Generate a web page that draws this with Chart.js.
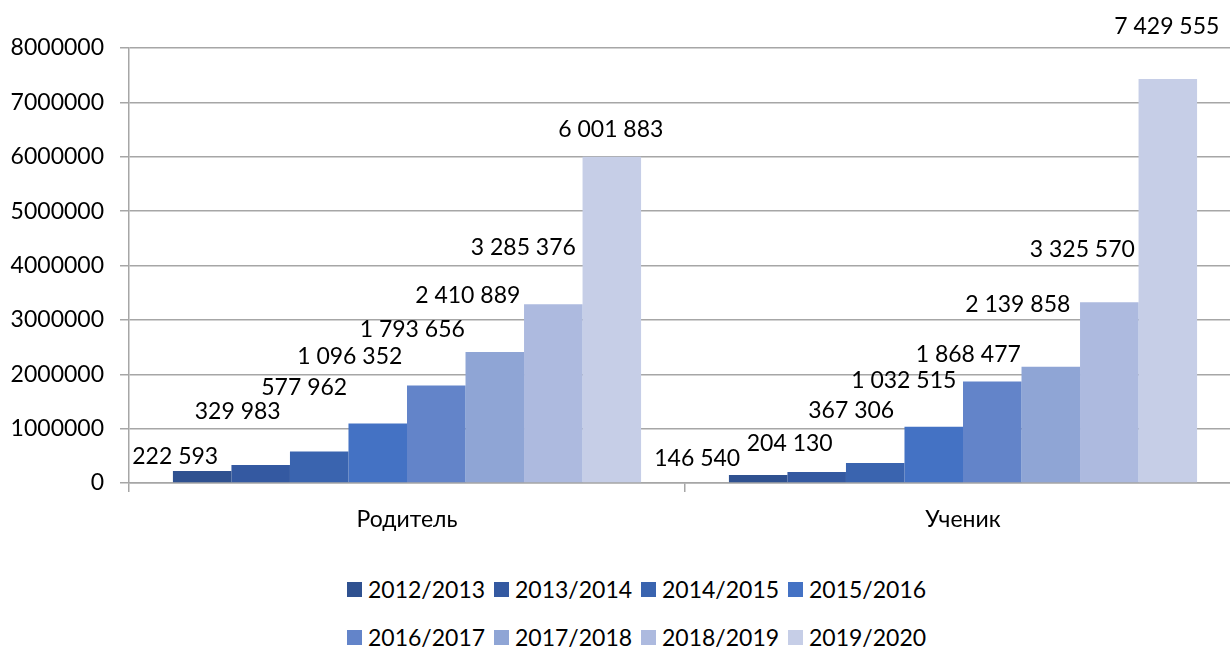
<!DOCTYPE html>
<html>
<head>
<meta charset="utf-8">
<script src="https://cdn.jsdelivr.net/npm/chart.js@4"></script>
<style>
  html, body { margin: 0; padding: 0; background: #fff; overflow: hidden; }
  #wrap { position: relative; width: 1230px; height: 650px; overflow: hidden; }
  #chart { position: absolute; left: 0; top: 0; }
  #legend {
    position: absolute; left: 347px; top: 575px;
    display: grid; grid-template-columns: repeat(4, 147px); row-gap: 20px;
    font-family: Lato, "Noto Sans", sans-serif; font-size: 23px; color: #000;
  }
  #legend .item { display: flex; align-items: center; height: 28px; white-space: nowrap; }
  #legend .box { width: 15px; height: 15px; margin-right: 6px; flex: none; }
</style>
</head>
<body>
<div id="wrap">
  <canvas id="chart" width="1242" height="560"></canvas>
  <div id="legend"></div>
</div>
<script>
// категории и сезоны
const categories = ["Родитель", "Ученик"];
const seasons = ["2012/2013", "2013/2014", "2014/2015", "2015/2016", "2016/2017", "2017/2018", "2018/2019", "2019/2020"];

// значения по сезонам: [Родитель, Ученик]
const v2012 = [222593, 146540];
const v2013 = [329983, 204130];
const v2014 = [577962, 367306];
const v2015 = [1096352, 1032515];
const v2016 = [1793656, 1868477];
const v2017 = [2410889, 2139858];
const v2018 = [3285376, 3325570];
const v2019 = [6001883, 7429555];

const yTicks = [0, 1000000, 2000000, 3000000, 4000000, 5000000, 6000000, 7000000, 8000000];

const seasonValues = [v2012, v2013, v2014, v2015, v2016, v2017, v2018, v2019];
const colors = ["#2f5190", "#3459a1", "#3a64af", "#4472c4", "#6384c9", "#8fa5d5", "#adbadf", "#c6cee7"];

// сдвиг подписей относительно верха столбца (как вручную расставлено в исходнике)
const labelShift = [
  [[-27, -14], [-61, -16]],
  [[-23, -53], [-27, -28]],
  [[-15, -64], [-24, -52]],
  [[-28, -67], [-30, -46]],
  [[-24, -56], [-24, -27]],
  [[-27, -56], [-33, -62]],
  [[-30, -57], [-27, -53]],
  [[-1, -27], [-1, -52]]
];

const FONT = "Lato, 'Noto Sans', sans-serif";
const GRID = "#a6a6a6";

function fmt(n) {
  return String(n).replace(/\B(?=(\d{3})+(?!\d))/g, " ");
}

const valueLabels = {
  id: "valueLabels",
  afterDatasetsDraw(chart) {
    const ctx = chart.ctx;
    ctx.save();
    ctx.font = "23px " + FONT;
    ctx.fillStyle = "#000";
    ctx.textAlign = "center";
    ctx.textBaseline = "middle";
    chart.data.datasets.forEach((ds, i) => {
      chart.getDatasetMeta(i).data.forEach((bar, j) => {
        const s = labelShift[i][j];
        ctx.fillText(fmt(ds.data[j]), bar.x + s[0], bar.y + s[1]);
      });
    });
    ctx.restore();
  }
};

const chart = new Chart(document.getElementById("chart"), {
  type: "bar",
  data: {
    labels: categories,
    datasets: seasons.map((s, i) => ({
      label: s,
      data: seasonValues[i],
      backgroundColor: colors[i],
      borderWidth: 0,
      categoryPercentage: 0.842,
      barPercentage: 1
    }))
  },
  options: {
    responsive: false,
    animation: false,
    devicePixelRatio: 1,
    layout: { padding: { top: 48, left: 0, right: 1, bottom: 17 } },
    plugins: {
      legend: { display: false },
      tooltip: { enabled: false }
    },
    scales: {
      x: {
        grid: { drawOnChartArea: false, drawTicks: true, tickLength: 9, color: GRID, lineWidth: 1.5 },
        border: { color: GRID, width: 1.5 },
        ticks: { color: "#000", font: { family: FONT, size: 23 }, padding: 14 },
        afterFit(scale) { scale.height = 60; }
      },
      y: {
        min: 0,
        max: 8000000,
        afterBuildTicks(scale) { scale.ticks = yTicks.map(v => ({ value: v })); },
        grid: { color: GRID, lineWidth: 1.5, tickLength: 9 },
        border: { color: GRID, width: 1.5 },
        ticks: { color: "#000", font: { family: FONT, size: 23 }, padding: 16, callback: v => String(v) },
        afterFit(scale) { scale.width = 129; }
      }
    }
  },
  plugins: [valueLabels]
});

// легенда в две строки
const legend = document.getElementById("legend");
chart.data.datasets.forEach(ds => {
  const item = document.createElement("div");
  item.className = "item";
  const box = document.createElement("span");
  box.className = "box";
  box.style.background = ds.backgroundColor;
  const txt = document.createElement("span");
  txt.textContent = ds.label;
  item.appendChild(box);
  item.appendChild(txt);
  legend.appendChild(item);
});
</script>
</body>
</html>
